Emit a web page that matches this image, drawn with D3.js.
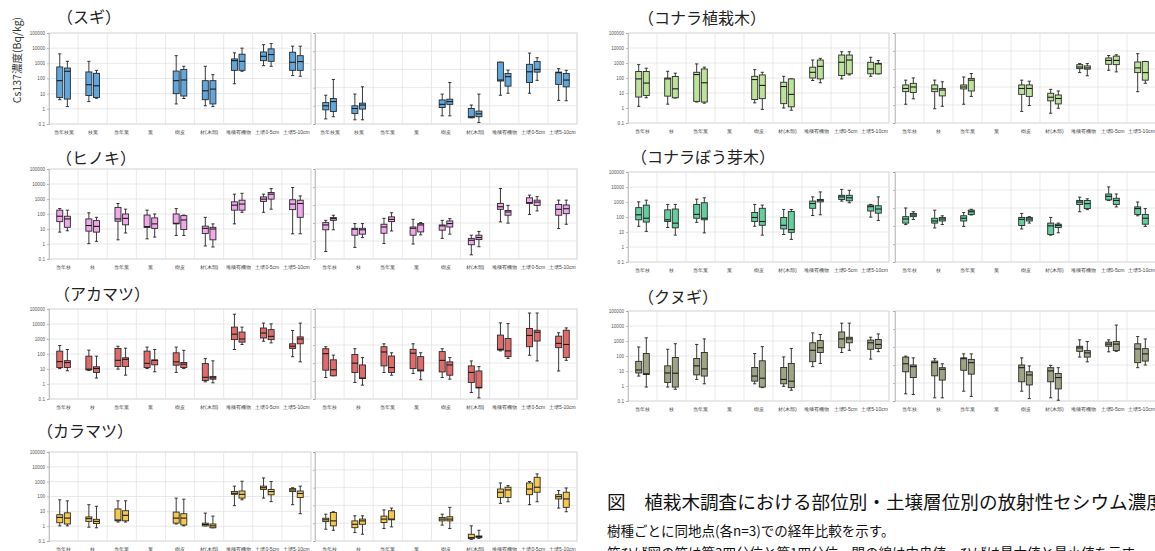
<!DOCTYPE html>
<html><head><meta charset="utf-8">
<script src="https://cdn.jsdelivr.net/npm/d3@7"></script>
<style>
body{margin:0;background:#fff;}
svg{display:block;font-family:"Noto Sans CJK JP","Noto Sans",sans-serif;}
</style>
</head><body>
<svg id="c" width="1155" height="551"></svg>
<script>
// ---------- categories ----------
const catsSugi = ["当年枝葉","枝葉","当年葉","葉","樹皮","材(木部)","堆積有機物","土壌0-5cm","土壌5-10cm"];
const catsStd  = ["当年枝","枝","当年葉","葉","樹皮","材(木部)","堆積有機物","土壌0-5cm","土壌5-10cm"];
const yTicksLeft  = [0.1,1,10,100,1000,10000,100000];
const yTicksRight = [1,10,100,1000,10000,100000];

// ---------- data: [min, q1, median, q3, max] (Bq/kg), null = not measured ----------
// スギ
const sugiL1 = [[4,5.6,72,575,4200],[3,7.6,39,270,1360],null,null,[2.1,10,72,310,3200],[1.6,4,15.5,72,640],[45,345,1500,1950,4900],[700,1500,2900,5600,17000],[155,345,1170,5400,13500]];
const sugiL2 = [[1.4,4.4,300,490,1360],[5,5.6,33,220,345],null,null,[4.8,7,80,400,640],[1.4,2.1,20,72,180],[300,345,1360,4000,10000],[640,1360,3800,9000,20000],[140,345,1300,3200,13500]];
const sugiR1 = [[1.9,6,10,15,38],[1.7,3.8,7.1,10,44],null,null,[2.8,8.1,12,21,44],[2.2,2.2,2.5,7.1,11],[38,230,260,2500,2500],[49,190,740,1900,7900],[20,150,660,710,1100]];
const sugiR2 = [[2.5,4.9,17,25,280],[1.7,6.6,11,14,110],null,null,[2.8,12,17,23,190],[1.2,2.5,3.6,5.1,44],[49,120,400,600,910],[250,710,1000,2750,4400],[19,110,260,600,890]];
// ヒノキ
const hinokiL1 = [[6.2,31,71,180,230],[1.05,7.2,17,47,120],[1.9,33,47,275,500],[2.2,12.6,14.5,85,180],[3.7,22,24,100,230],[0.74,5,11,15.5,60],[22,180,390,650,2100],[130,690,980,1380,2100],[4.8,195,460,890,5800]];
const hinokiL2 = [[7.6,13,47,71,180],[1.5,6.2,15,36,60],[5.4,19,51,100,210],[2.9,11,22,55,100],[3.7,9.3,40,78,85],[0.63,1.9,10,13,22],[130,180,460,830,2400],[210,980,2100,2700,4900],[4.8,60,500,830,1600]];
const hinokiR1 = [[2.6,42,78,105,140],[4.4,21,45,51,93],[7.2,27,60,85,180],[6.8,21,51,60,160],[14,40,69,78,140],[1.7,6.2,11,14,21],[115,575,800,1230,8300],[300,1230,1350,2500,3550],[49,270,575,1070,1860]];
const hinokiR2 = [[42,140,175,200,270],[15.5,24,42,51,93],[36,120,160,220,370],[22,32,78,93,105],[24,60,93,130,175],[4.8,12,15.5,21,34],[98,270,410,500,950],[470,950,1450,1860,2900],[85,330,620,1000,1860]];
// アカマツ
const akaL1 = [[10.7,12.6,31,155,370],[7.9,8.7,9.8,72,180],[9.8,14.5,38,235,330],[10.7,12.6,24,155,290],[5.9,18,30,120,290],[1.4,1.7,2.8,23,49],[200,910,2100,6200,45000],[710,1170,2500,5400,11500],[66,235,330,480,3700]];
const akaL2 = [[7.6,12.6,27,36,200],[2.5,5.9,10.7,14,72],[3.9,14.5,44,56,245],[6.5,19,38,40,200],[10.7,12.6,21,27,175],[1.2,2.1,2.6,3.2,35],[430,620,1000,2900,6200],[550,910,1500,4200,10200],[30,480,1000,1380,11500]];
const akaR1 = [[15.5,40,330,620,800],[8.3,29.5,98,300,620],[29.5,69,410,800,1170],[26,49,350,575,1170],[15.5,32,140,430,620],[2.3,8.3,30,69,130],[470,525,575,3550,17000],[270,800,3400,8300,60000],[36,710,1230,3100,4800]];
const akaR2 = [[19.5,19.5,42,150,275],[5.9,13.8,14.5,78,200],[21,29.5,56,245,370],[11.7,36,40,225,370],[12.6,21,78,115,200],[1.15,4.1,4.4,36,63],[180,225,470,2300,15500],[130,1660,5100,6600,60000],[140,200,1070,6600,8900]];
// カラマツ
const karaL1 = [[1.05,1.7,3.9,5.9,60],[0.85,2.1,3.2,4.2,28],[1.9,2.3,2.6,14.5,51],null,[1.4,1.6,3.5,8.9,78],[1.05,1.05,1.3,1.6,7.6],[24,140,165,220,500],[78,300,390,500,1780],[28,215,275,340,390]];
const karaL2 = [[1.05,1.4,3.5,7.9,51],[0.78,1.5,2.1,2.9,22],[1.9,2.3,5.4,11,51],null,[1.05,1.2,3.5,6.9,66],[0.78,0.78,1.05,1.4,4.8],[60,78,140,235,1070],[45,130,215,300,1020],[6.9,85,160,235,500]];
const karaR1 = [[4.6,12.3,15.5,19,32],[2.95,5.6,8.7,13.5,26],[5,11,17,25,56],null,[7.8,13.5,17,21,32],[1.23,1.35,1.55,2.4,7.1],[130,280,550,830,1820],[110,400,830,1820,2200],[71,230,310,400,680]];
const karaR2 = [[4,7.1,13.5,40,44],[2.4,8.7,13.5,17,26],[6.2,15.5,17,50,71],null,[5,13.5,17,23,78],[1.4,1.55,1.8,1.9,4],[160,280,740,1050,1290],[160,550,1050,3800,5900],[44,78,230,550,950]];
// コナラ植栽木
const konaraL1 = [[1.3,5.4,87,270,780],[1.8,6.2,87,100,280],[2.5,2.75,170,240,870],null,[2.2,3.7,79,130,360],[1.0,1.95,27,52,130],[68,100,240,525,1580],[87,145,1120,3400,5600],[130,190,400,1120,2400]];
const konaraL2 = [[4.8,6.9,46,270,450],[4.6,4.8,19,126,210],[2.1,2.5,48,400,525],null,[0.81,4.2,32,160,240],[0.71,1.2,8.1,87,87],[48,87,600,1580,2040],[160,190,1580,3400,5600],[190,190,870,950,1450]];
const konaraR1 = [[11,55,83,130,240],[6.2,55,78,130,240],[11,78,100,130,360],null,[4.4,39,83,130,240],[3.5,17,27,45,74],[630,1050,1290,1740,2000],[850,1820,3000,4100,5600],[55,630,1150,2450,7100]];
const konaraR2 = [[22,50,100,160,320],[8.5,32,68,83,195],[30,60,240,300,560],null,[9.3,30,83,130,210],[6.6,11.5,23,36,60],[420,980,1150,1480,2000],[690,1740,3000,5200,6200],[160,240,630,2630,2630]];
// コナラぼう芽木
const bougaL1 = [[24,65,140,420,1020],[20,50,65,300,690],[44,83,150,690,1550],null,[24,50,93,200,690],[6.8,16,28,93,320],[126,380,790,1150,2200],[1150,1480,2200,2800,6900],[98,250,490,620,690]];
const bougaL2 = [[11,46,83,620,1320],[6.2,19,39,340,690],[8.7,65,83,890,1900],null,[6.2,28,50,380,620],[3.2,9.5,14.5,230,320],[140,1020,1320,1480,4700],[890,1200,1900,2800,6000],[59,180,340,560,2200]];
const bougaR1 = [[120,145,245,330,1000],[78,145,190,270,760],[95,190,270,370,560],null,[68,107,235,300,500],[31,34,102,145,300],[620,1580,2140,2630,4000],[2630,2820,4470,6000,14800],[370,440,930,1150,2140]];
const bougaR2 = [[230,330,410,500,620],[120,190,245,300,370],[410,440,620,760,850],null,[145,190,245,300,330],[42,83,107,126,145],[810,930,1740,2630,3240],[1150,1580,2630,3470,6000],[95,126,270,440,930]];
// クヌギ
const kunugiL1 = [[4.6,7.4,11.7,44,400],[0.85,1.7,7.4,22,280],[2.75,5.5,22,68,590],null,[1.4,2.1,4.6,17,145],[0.95,1.4,2.75,17,87],[19.5,42,240,760,3470],[170,355,1380,4000,15500],[62,280,760,1150,1780]];
const kunugiL2 = [[0.85,5.8,6.5,145,1620],[0.6,0.85,7.1,79,660],[1.4,4.6,13.8,170,1380],null,[0.78,0.85,3.3,48,420],[0.52,0.78,2.1,32,320],[32,170,355,1070,2700],[240,760,1380,1780,15500],[195,320,590,1260,2950]];
const kunugiR1 = [[2.5,42,117,275,310],[1.5,25,135,165,225],[3.5,51,225,250,415],null,[3.5,11.7,71,100,250],[1.5,11.7,47,71,95],[275,575,890,1100,2500],[540,1100,1450,1860,2500],[71,135,780,1510,3800]];
const kunugiR2 = [[2.3,20,81,100,250],[1.5,14.5,58,71,117],[1.8,31,135,205,415],null,[1.35,7.8,28,42,89],[1.1,4.7,20,34,71],[150,275,470,630,2040],[575,630,1450,2040,16600],[100,165,415,810,2800]];

const titles = ["（スギ）","（ヒノキ）","（アカマツ）","（カラマツ）","（コナラ植栽木）","（コナラぼう芽木）","（クヌギ）"];

// ---------- layout / style ----------
const cols = {
  L: {a:[49,311], b:[315,577], tickEnd:45},
  R: {a:[628,889], b:[895,1156], tickEnd:624}
};
const panels = [
  {t:0, col:"L", y:[33,124],  tx:57,  ty:23,  fill:"#60a7de", cats:catsSugi, a:[sugiL1,sugiL2],   b:[sugiR1,sugiR2]},
  {t:1, col:"L", y:[169,259], tx:56,  ty:164, fill:"#f1a7ec", cats:catsStd,  a:[hinokiL1,hinokiL2], b:[hinokiR1,hinokiR2]},
  {t:2, col:"L", y:[309,399], tx:54,  ty:300, fill:"#e26a6a", cats:catsStd,  a:[akaL1,akaL2],     b:[akaR1,akaR2]},
  {t:3, col:"L", y:[452,541], tx:37,  ty:437, fill:"#f6c94c", cats:catsStd,  a:[karaL1,karaL2],   b:[karaR1,karaR2]},
  {t:4, col:"R", y:[33,123],  tx:638, ty:24,  fill:"#bde39b", cats:catsStd,  a:[konaraL1,konaraL2], b:[konaraR1,konaraR2]},
  {t:5, col:"R", y:[172,262], tx:631, ty:163, fill:"#63cf9f", cats:catsStd,  a:[bougaL1,bougaL2], b:[bougaR1,bougaR2]},
  {t:6, col:"R", y:[311,401], tx:638, ty:303, fill:"#9ea585", cats:catsStd,  a:[kunugiL1,kunugiL2], b:[kunugiR1,kunugiR2]}
];

const svg = d3.select("#c");
svg.append("rect").attr("width",1155).attr("height",551).attr("fill","#fff");

function fmt(d){ return d < 1 ? "0.1" : String(Math.round(d)); }

function drawSub(xr, yr, ticks, withLabels, tickEnd, cats, series, fill){
  const x = d3.scaleBand().domain(cats).range(xr);
  const y = d3.scaleLog().domain([ticks[0], ticks[ticks.length-1]]).range([yr[1], yr[0]]);
  const g = svg.append("g");
  g.append("rect").attr("x",xr[0]).attr("y",yr[0]).attr("width",xr[1]-xr[0]).attr("height",yr[1]-yr[0])
    .attr("fill","#fff").attr("stroke","#cdcdcd").attr("stroke-width",0.9);
  g.selectAll(null).data(ticks.slice(1,-1)).join("line")
    .attr("x1",xr[0]).attr("x2",xr[1]).attr("y1",d=>y(d)).attr("y2",d=>y(d))
    .attr("stroke","#e3e3e3").attr("stroke-width",0.8);
  g.selectAll(null).data(cats.slice(1)).join("line")
    .attr("x1",d=>x(d)).attr("x2",d=>x(d)).attr("y1",yr[0]).attr("y2",yr[1])
    .attr("stroke","#e3e3e3").attr("stroke-width",0.8);
  const ay = g.append("g").attr("transform",`translate(${xr[0]},0)`)
    .call(d3.axisLeft(y).tickValues(ticks).tickSize(2).tickPadding(xr[0]-tickEnd-2).tickFormat(withLabels?fmt:""));
  ay.select(".domain").attr("stroke","#bbb").attr("stroke-width",0.8);
  ay.selectAll(".tick line").attr("stroke","#999").attr("stroke-width",0.6);
  ay.selectAll("text").attr("font-size",4.6).attr("fill","#555").attr("font-family","Liberation Sans, Arial, sans-serif");
  const ax = g.append("g").attr("transform",`translate(0,${yr[1]})`)
    .call(d3.axisBottom(x).tickSize(0).tickPadding(6));
  ax.select(".domain").remove();
  ax.selectAll("text").attr("font-size",5).attr("fill","#444");
  const bw = 6, offs = [-3.8, 3.8];
  series.forEach((s, j) => {
    s.forEach((v, i) => {
      if (!v) return;
      const cx = x(cats[i]) + x.bandwidth()/2 + offs[j];
      const [mn,q1,md,q3,mx] = v;
      g.append("line").attr("x1",cx).attr("x2",cx).attr("y1",y(mn)).attr("y2",y(mx))
        .attr("stroke","#222").attr("stroke-width",0.9);
      [mn,mx].forEach(w => g.append("line").attr("x1",cx-1.6).attr("x2",cx+1.6).attr("y1",y(w)).attr("y2",y(w))
        .attr("stroke","#222").attr("stroke-width",0.9));
      g.append("rect").attr("x",cx-bw/2).attr("y",y(q3)).attr("width",bw).attr("height",Math.max(0.8,y(q1)-y(q3)))
        .attr("fill",fill).attr("stroke","#2a2a2a").attr("stroke-width",0.9);
      g.append("line").attr("x1",cx-bw/2).attr("x2",cx+bw/2).attr("y1",y(md)).attr("y2",y(md))
        .attr("stroke","#1a1a1a").attr("stroke-width",1.1);
    });
  });
}

panels.forEach(p => {
  const c = cols[p.col];
  svg.append("text").attr("x",p.tx).attr("y",p.ty).text(titles[p.t])
    .attr("font-size",16).attr("fill","#222");
  drawSub(c.a, p.y, yTicksLeft, true, c.tickEnd, p.cats, p.a, p.fill);
  drawSub(c.b, p.y, yTicksRight, false, c.tickEnd, p.cats, p.b, p.fill);
});

svg.append("text").attr("transform","translate(21,60) rotate(-90)").attr("text-anchor","middle")
  .attr("font-size",10.5).attr("fill","#333").text("Cs137濃度(Bq/kg)");

svg.append("text").attr("x",607).attr("y",509).attr("font-size",18.6).attr("fill","#111")
  .text("図　植栽木調査における部位別・土壌層位別の放射性セシウム濃度");
svg.append("text").attr("x",607).attr("y",536).attr("font-size",13.5).attr("fill","#111")
  .text("樹種ごとに同地点(各n=3)での経年比較を示す。");
svg.append("text").attr("x",607).attr("y",558).attr("font-size",13.5).attr("fill","#111")
  .text("箱ひげ図の箱は第3四分位と第1四分位、間の線は中央値、ひげは最大値と最小値を示す。");
</script>
</body></html>
